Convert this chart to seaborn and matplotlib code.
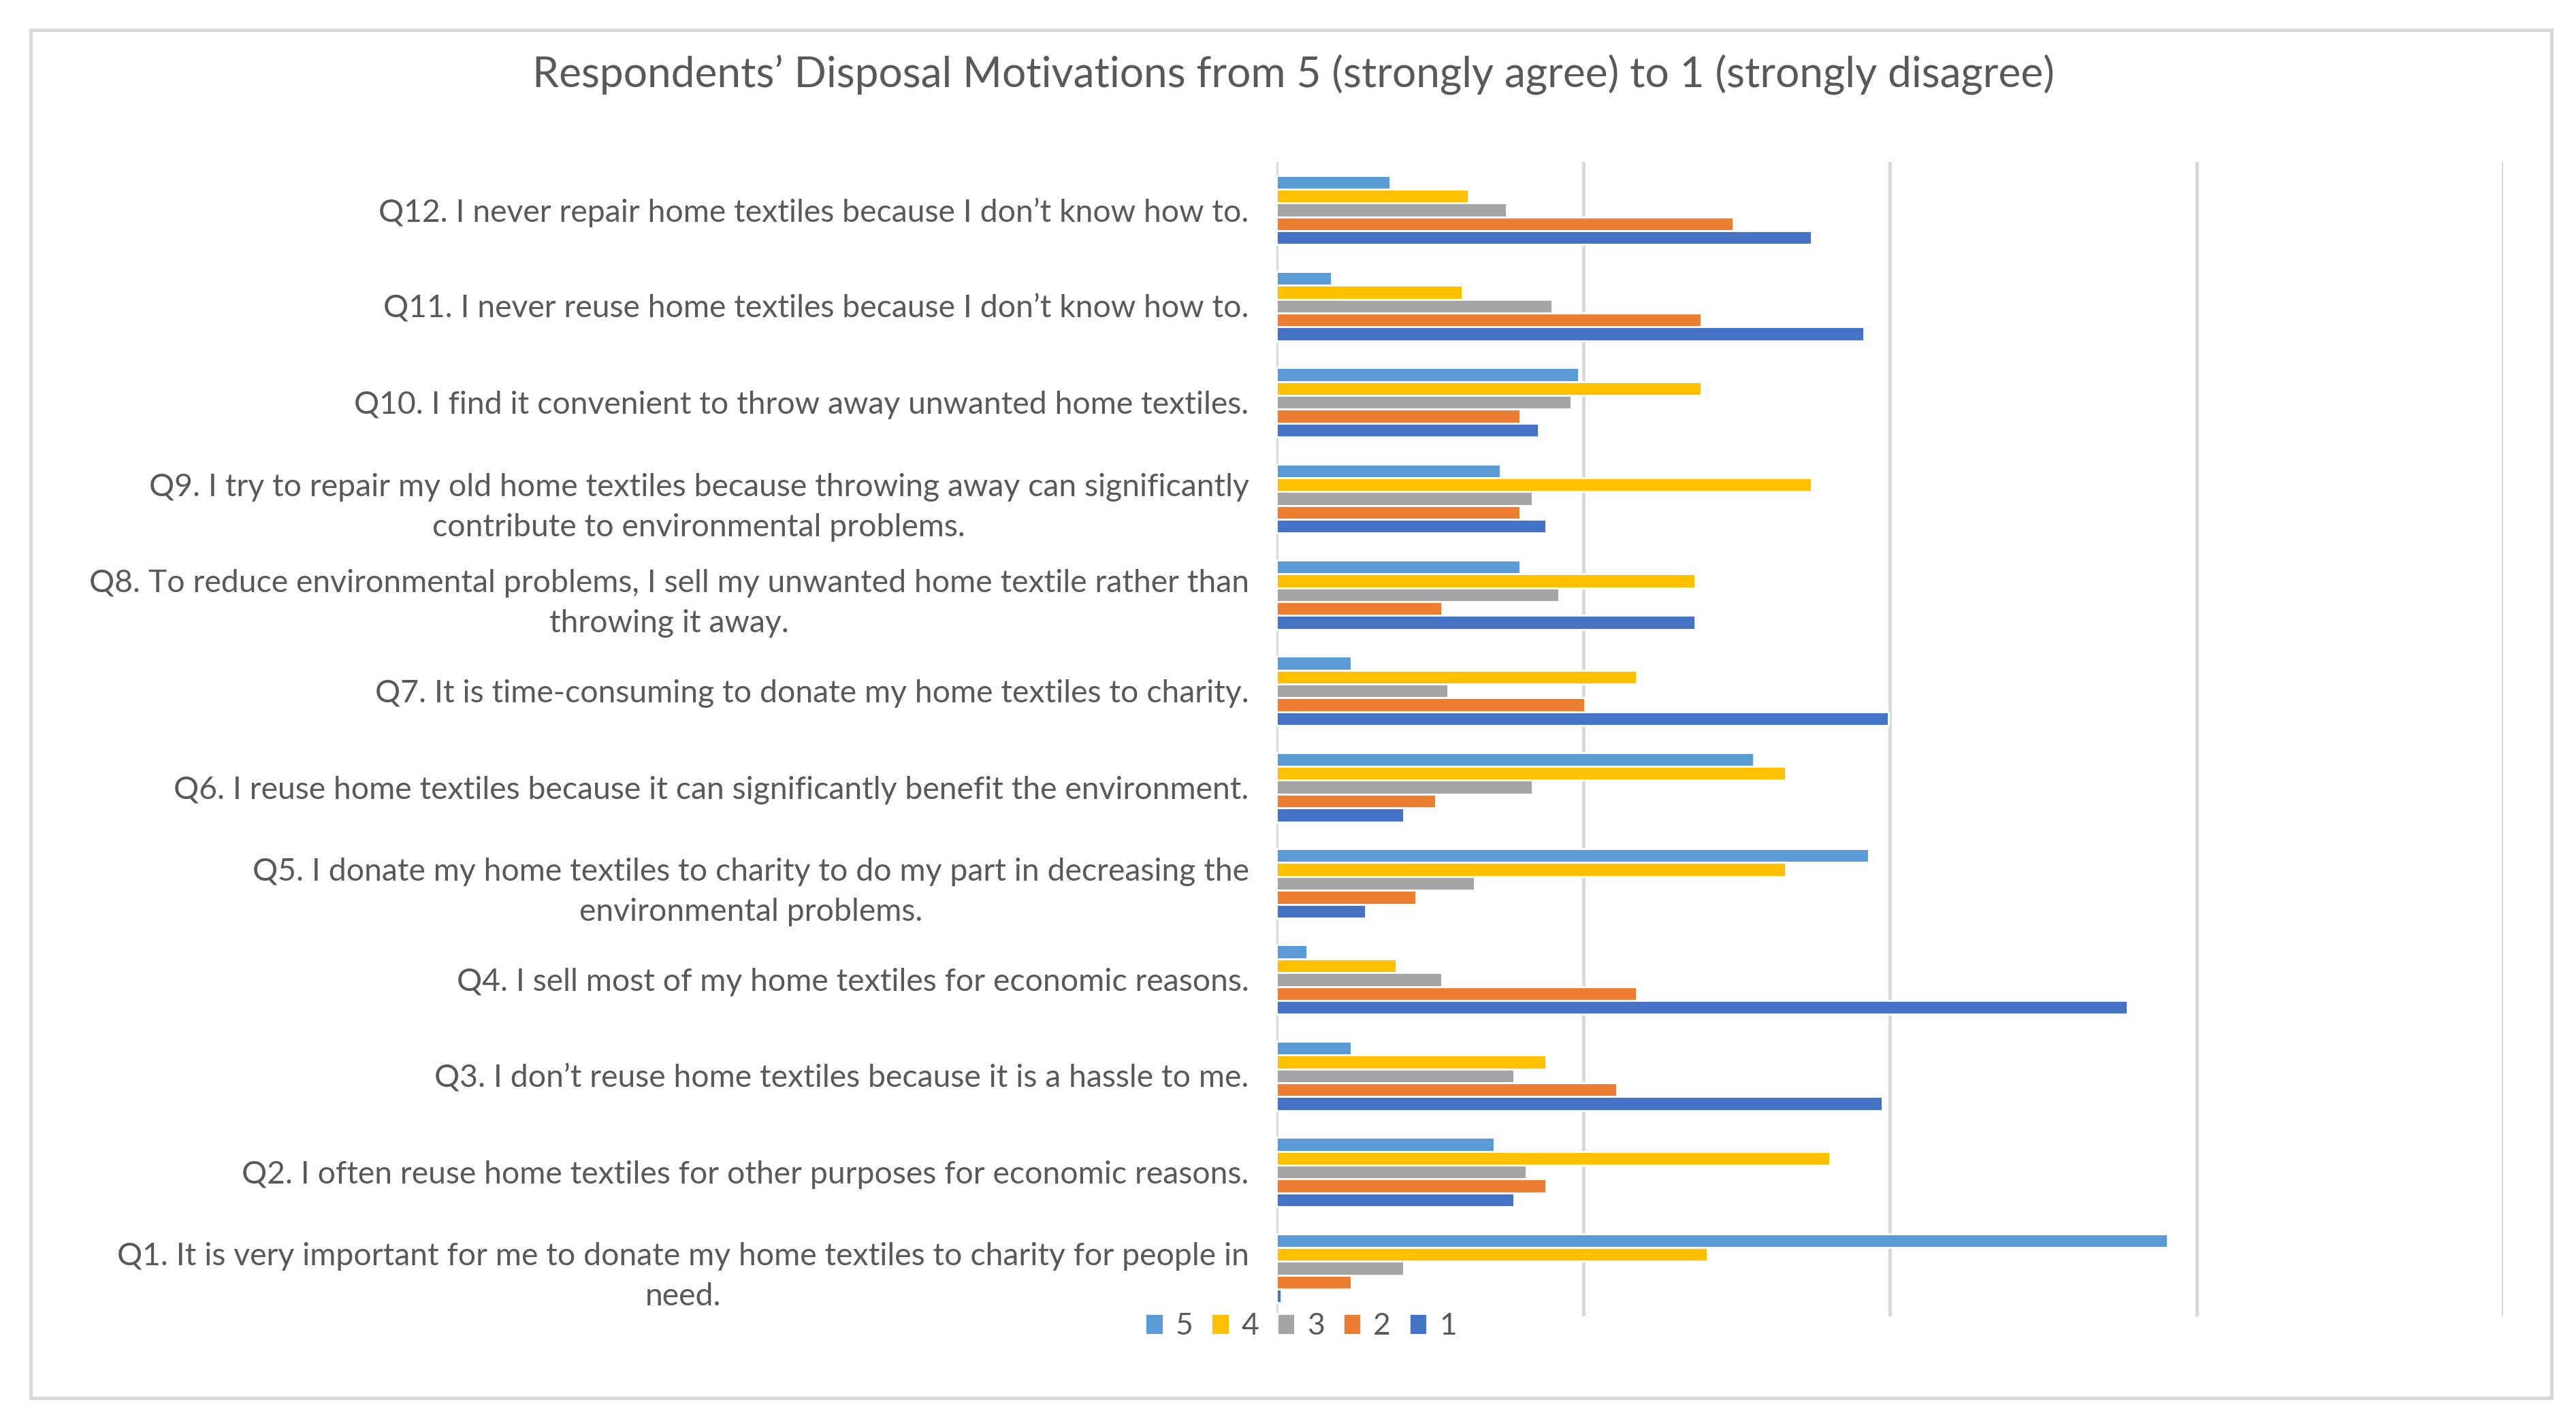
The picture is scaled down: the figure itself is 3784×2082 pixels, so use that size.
import pandas as pd
import matplotlib.pyplot as plt
import seaborn as sns
from matplotlib.patches import Rectangle

# ---------- data (share of respondents, %) ----------
questions = [
    "Q12. I never repair home textiles because I don\u2019t know how to.",
    "Q11. I never reuse home textiles because I don\u2019t know how to.",
    "Q10. I find it convenient to throw away unwanted home textiles.",
    "Q9. I try to repair my old home textiles because throwing away can significantly\ncontribute to environmental problems.",
    "Q8. To reduce environmental problems, I sell my unwanted home textile rather than\nthrowing it away.",
    "Q7. It is time-consuming to donate my home textiles to charity.",
    "Q6. I reuse home textiles because it can significantly benefit the environment.",
    "Q5. I donate my home textiles to charity to do my part in decreasing the\nenvironmental problems.",
    "Q4. I sell most of my home textiles for economic reasons.",
    "Q3. I don\u2019t reuse home textiles because it is a hassle to me.",
    "Q2. I often reuse home textiles for other purposes for economic reasons.",
    "Q1. It is very important for me to donate my home textiles to charity for people in\nneed.",
]
levels = ["5", "4", "3", "2", "1"]

score_5 = [7.4, 3.6, 19.7, 14.6, 15.9, 4.9, 31.1, 38.6, 2.0, 4.9, 14.2, 58.1]
score_4 = [12.5, 12.1, 27.7, 34.9, 27.3, 23.5, 33.2, 33.2, 7.8, 17.6, 36.1, 28.1]
score_3 = [15.0, 18.0, 19.2, 16.7, 18.4, 11.2, 16.7, 12.9, 10.8, 15.5, 16.3, 8.3]
score_2 = [29.8, 27.7, 15.9, 15.9, 10.8, 20.1, 10.4, 9.1, 23.5, 22.2, 17.6, 4.9]
score_1 = [34.9, 38.3, 17.1, 17.6, 27.3, 39.9, 8.3, 5.8, 55.5, 39.5, 15.5, 0.3]

colors = ["#5B9BD5", "#FFC000", "#A5A5A5", "#ED7D31", "#4472C4"]

rows = []
for lvl, vals in zip(levels, [score_5, score_4, score_3, score_2, score_1]):
    for q, v in zip(questions, vals):
        rows.append({"question": q, "level": lvl, "value": v})
df = pd.DataFrame(rows)

# ---------- plot ----------
sns.set_style("white")
plt.rcParams["font.family"] = ["Lato", "DejaVu Sans"]
text_col = "#595959"
grid_col = "#D9D9D9"

fig = plt.figure(figsize=(18.92, 10.41), dpi=200)
ax = fig.add_axes([0.4955, 0.071, 0.4763, 0.8148])

sns.barplot(data=df, y="question", x="value", hue="level",
            order=questions, hue_order=levels, palette=colors,
            orient="h", width=0.72, saturation=1, ax=ax)

ax.set_xlim(0, 80)
ax.set_xticks([0, 20, 40, 60, 80])
ax.set_xticklabels([])
ax.xaxis.grid(True, color=grid_col, linewidth=1.8)
ax.set_axisbelow(True)
for s in ax.spines.values():
    s.set_visible(False)
ax.set_xlabel("")
ax.set_ylabel("")
ax.tick_params(axis="both", length=0)
ax.tick_params(axis="y", pad=14.5, labelsize=16.7, labelcolor=text_col)
for t in ax.get_yticklabels():
    t.set_multialignment("center")
    t.set_linespacing(1.5)

handles, labels = ax.get_legend_handles_labels()
ax.legend_.remove()
fig.legend(handles, labels, loc="center", bbox_to_anchor=(0.505, 0.064),
           ncol=5, frameon=False, fontsize=16, labelcolor=text_col,
           handlelength=0.6, handleheight=0.7, handletextpad=0.4,
           columnspacing=0.6)

fig.suptitle("Respondents\u2019 Disposal Motivations from 5 (strongly agree) to 1 (strongly disagree)",
             x=0.502, y=0.962, fontsize=22.4, color=text_col)

# chart border
fig.patches.append(Rectangle((0.0118, 0.0135), 0.9786, 0.9655, transform=fig.transFigure,
                             fill=False, edgecolor=grid_col, linewidth=1.8))

fig.savefig("out.png", dpi=200, facecolor="white")
